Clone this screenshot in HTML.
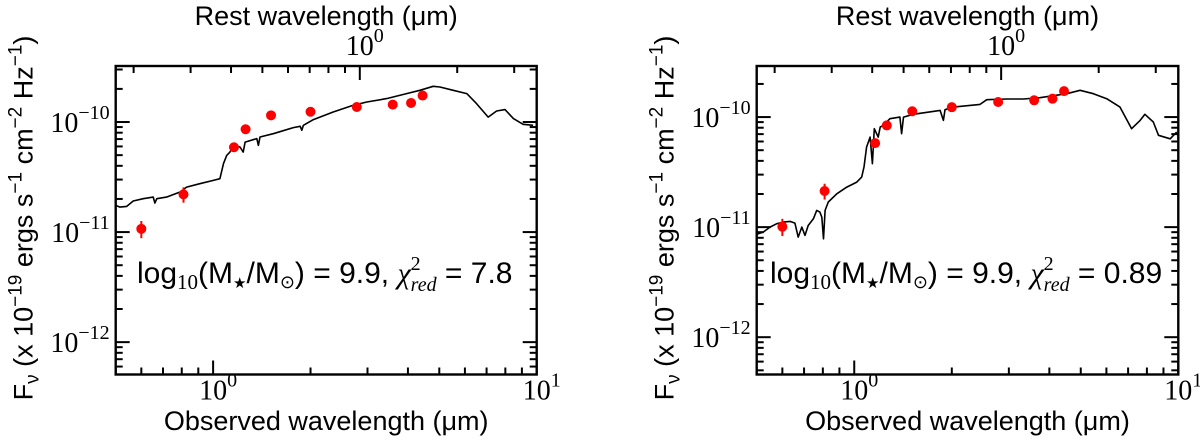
<!DOCTYPE html>
<html><head><meta charset="utf-8"><style>
html,body{margin:0;padding:0;background:#fff;}
svg{display:block;}
.tk{font-family:"Liberation Serif",serif;font-size:28px;fill:#000;}
.lb{font-family:"Liberation Sans",sans-serif;font-size:27px;fill:#000;}
.an{font-family:"Liberation Sans",sans-serif;font-size:30px;fill:#000;}
.tick{stroke:#000;stroke-width:2;}
</style></head><body>
<svg id="fig" width="1200" height="444" viewBox="0 0 1200 444" xmlns="http://www.w3.org/2000/svg"></svg>
<script>
// ---- data ----
const photLam = [0.60, 0.81, 1.16, 1.26, 1.51, 2.00, 2.78, 3.59, 4.09, 4.44];
const leftPhotF = [1.07e-11, 2.2e-11, 5.9e-11, 8.6e-11, 1.15e-10, 1.24e-10, 1.37e-10, 1.44e-10, 1.49e-10, 1.74e-10];
const leftPhotErr = [0.19e-11, 0.35e-11, 0.3e-11, 0.2e-11, 0.2e-11, 0.2e-11, 0.2e-11, 0.2e-11, 0.2e-11, 0.2e-11];
const rightPhotF = [1.01e-11, 2.13e-11, 5.8e-11, 8.4e-11, 1.13e-10, 1.23e-10, 1.37e-10, 1.42e-10, 1.47e-10, 1.72e-10];
const rightPhotErr = [0.18e-11, 0.35e-11, 0.3e-11, 0.2e-11, 0.2e-11, 0.2e-11, 0.2e-11, 0.2e-11, 0.2e-11, 0.2e-11];
const leftModelLogLam = [-0.301,-0.288,-0.267,-0.247,-0.216,-0.185,-0.180,-0.174,-0.144,-0.102,-0.082,-0.041,0.001,0.021,0.032,0.042,0.052,0.063,0.073,0.083,0.093,0.099,0.135,0.140,0.145,0.186,0.248,0.269,0.274,0.279,0.310,0.371,0.433,0.475,0.536,0.598,0.639,0.680,0.701,0.742,0.784,0.814,0.850,0.876,0.902,0.928,0.958,0.989];
const leftModelLogF = [-10.757,-10.773,-10.767,-10.718,-10.697,-10.682,-10.736,-10.697,-10.682,-10.636,-10.591,-10.560,-10.530,-10.515,-10.378,-10.303,-10.273,-10.227,-10.221,-10.227,-10.273,-10.182,-10.151,-10.212,-10.136,-10.106,-10.051,-10.039,-10.075,-10.030,-9.978,-9.909,-9.848,-9.818,-9.787,-9.742,-9.712,-9.675,-9.682,-9.712,-9.742,-9.833,-9.955,-9.900,-9.887,-9.969,-10.021,-10.030];
const rightModelLogLam = [-0.301,-0.296,-0.281,-0.260,-0.239,-0.219,-0.198,-0.183,-0.173,-0.162,-0.152,-0.142,-0.126,-0.116,-0.106,-0.100,-0.095,-0.090,-0.080,-0.054,-0.023,0.008,0.023,0.030,0.038,0.049,0.056,0.062,0.074,0.080,0.090,0.100,0.110,0.141,0.146,0.152,0.182,0.265,0.275,0.280,0.306,0.388,0.409,0.471,0.522,0.573,0.656,0.697,0.738,0.779,0.820,0.856,0.882,0.897,0.923,0.939,0.975,0.995];
const rightModelLogF = [-11.07,-11.060,-11.045,-11.000,-10.969,-10.954,-10.948,-10.963,-11.091,-11.000,-11.075,-10.985,-10.924,-10.848,-10.863,-10.909,-11.106,-10.848,-10.772,-10.697,-10.636,-10.591,-10.545,-10.454,-10.272,-10.182,-10.424,-10.106,-10.182,-10.091,-10.075,-10.045,-10.015,-10.000,-10.151,-10.000,-9.975,-9.939,-10.030,-9.933,-9.909,-9.885,-9.842,-9.836,-9.836,-9.824,-9.788,-9.757,-9.788,-9.833,-9.909,-10.106,-10.030,-9.975,-10.045,-10.166,-10.197,-10.136];
const yMajorTicks = [-10, -11, -12];
const xMajorTicks = [1, 10];
const restTicks = [0.2,0.3,0.4,0.5,0.6,0.7,0.8,0.9,1,2,3];
const redshift = 1.84;

const NS = "http://www.w3.org/2000/svg";
const svg = document.getElementById('fig');
function mk(tag, attrs, parent){ const e=document.createElementNS(NS,tag); for(const k in attrs) e.setAttribute(k,attrs[k]); (parent||svg).appendChild(e); return e; }

const panels = [
  {name:'left', x0:115.7, x1:536.7, y0:66, y1:374.5, lt:-9.491, lb:-12.294, F:leftPhotF, E:leftPhotErr, mL:leftModelLogLam, mF:leftModelLogF,
   ann:['7.8'], annX:137},
  {name:'right', x0:756.7, x1:1178.3, y0:66, y1:374.5, lt:-9.536, lb:-12.339, F:rightPhotF, E:rightPhotErr, mL:rightModelLogLam, mF:rightModelLogF,
   ann:['0.89'], annX:770}
];
const lmin = Math.log10(0.5), lmax = 1;

function supText(parent, x, y, base, sup, cls, anchor){
  const t = mk('text',{x:x,y:y,class:cls,'text-anchor':anchor||'middle'},parent);
  t.appendChild(document.createTextNode(base));
  const s = mk('tspan',{dy:-13,'font-size':'20px'},t); s.textContent = sup;
  return t;
}
function tick(parent,x1,y1,x2,y2){
  return mk('line',{x1:x1,y1:y1,x2:x2,y2:y2,stroke:'#000','stroke-width':2,class:'tick'},parent);
}

panels.forEach(p=>{
  const g = mk('g',{});
  
  
  const X = v => p.x0 + (Math.log10(v)-lmin)/(lmax-lmin)*(p.x1-p.x0);
  const XL = l => p.x0 + (l-lmin)/(lmax-lmin)*(p.x1-p.x0);
  const Y = lf => p.y0 + (p.lt-lf)/(p.lt-p.lb)*(p.y1-p.y0);

  // model
  const pts = p.mL.map((l,i)=>XL(l).toFixed(1)+','+Y(p.mF[i]).toFixed(1)).join(' ');
  const ml = mk('polyline',{points:pts,fill:'none',stroke:'#000','stroke-width':1.6,'stroke-linejoin':'round'},g);
  
  

  // photometry
  photLam.forEach((lam,i)=>{
    const x=X(lam), f=p.F[i], e=p.E[i];
    const eb = mk('line',{x1:x,x2:x,y1:Y(Math.log10(f+e)),y2:Y(Math.log10(f-e)),stroke:'#ff0000','stroke-width':2},g);
    
    
    const c = mk('circle',{cx:x,cy:Y(Math.log10(f)),r:5,fill:'#ff0000'},g);
    
    
  });

  // ticks
  const tg = mk('g',{},g);
  
  
  for(let k=-13;k<=-9;k++){ for(let m=1;m<=9;m++){
    const lf = k+Math.log10(m); if(lf>p.lt||lf<p.lb) continue;
    const y=Y(lf), len = m===1?14:7;
    tick(tg,p.x0,y,p.x0+len,y);
    tick(tg,p.x1,y,p.x1-len,y);
  }}
  for(let k=-1;k<=1;k++){ for(let m=1;m<=9;m++){
    const v=m*Math.pow(10,k); if(v<0.5||v>10) continue;
    const x=X(v), len = m===1?14:7;
    tick(tg,x,p.y1,x,p.y1-len);
  }}
  restTicks.forEach(r=>{
    const x=X(r*(1+redshift)); if(x<p.x0||x>p.x1) return;
    const len = r===1?14:7;
    tick(tg,x,p.y0,x,p.y0+len);
  });

  // frame
  const fr = mk('rect',{x:p.x0,y:p.y0,width:p.x1-p.x0,height:p.y1-p.y0,fill:'none',stroke:'#000','stroke-width':2.4},g);
  
  

  // tick labels
  yMajorTicks.forEach(k=>{
    const t = supText(g, p.x0-6, Y(k)+10, '10', '\u2212'+(-k), 'tk', 'end');
    
    
  });
  xMajorTicks.forEach((v,i)=>{
    const t = supText(g, X(v)+5, p.y1+25, '10', String(i), 'tk', 'middle');
    
    
  });
  const tt = supText(g, X(1+redshift)+5, 55, '10', '0', 'tk', 'middle');
  
  

  // axis titles
  const cx = (p.x0+p.x1)/2;
  const xt = mk('text',{x:cx,y:430,class:'lb','text-anchor':'middle'},g);
  xt.textContent = 'Observed wavelength (\u03BCm)';
  
  
  const rt = mk('text',{x:cx,y:25,class:'lb','text-anchor':'middle'},g);
  rt.textContent = 'Rest wavelength (\u03BCm)';
  
  

  const yt = mk('text',{x:0,y:0,class:'lb','text-anchor':'middle',transform:`translate(${p.x0-83},218) rotate(-90)`},g);
  
  
  yt.appendChild(document.createTextNode('F'));
  let s=mk('tspan',{dy:6,'font-size':'19px'},yt); s.textContent='\u03BD';
  s=mk('tspan',{dy:-6},yt); s.textContent=' (x 10';
  s=mk('tspan',{dy:-11,'font-size':'19px'},yt); s.textContent='\u221219';
  s=mk('tspan',{dy:11},yt); s.textContent=' ergs s';
  s=mk('tspan',{dy:-11,'font-size':'19px'},yt); s.textContent='\u22121';
  s=mk('tspan',{dy:11},yt); s.textContent=' cm';
  s=mk('tspan',{dy:-11,'font-size':'19px'},yt); s.textContent='\u22122';
  s=mk('tspan',{dy:11},yt); s.textContent=' Hz';
  s=mk('tspan',{dy:-11,'font-size':'19px'},yt); s.textContent='\u22121';
  s=mk('tspan',{dy:11},yt); s.textContent=')';

  // annotation
  const an = mk('text',{x:p.annX,y:283,class:'an'},g);
  
  
  an.appendChild(document.createTextNode('log'));
  s=mk('tspan',{dy:6,'font-size':'21px','font-family':'Liberation Serif'},an); s.textContent='10';
  s=mk('tspan',{dy:-6},an); s.textContent='(M';
  s=mk('tspan',{dy:5,'font-size':'15px'},an); s.textContent='\u2605';
  s=mk('tspan',{dy:-5},an); s.textContent='/M';
  s=mk('tspan',{dy:5,'font-size':'18px'},an); s.textContent='\u2299';
  s=mk('tspan',{dy:-5},an); s.textContent=') = 9.9, ';
  s=mk('tspan',{'font-family':'Liberation Serif','font-style':'italic'},an); s.textContent='\u03C7';
  s=mk('tspan',{dy:-13,'font-size':'20px','font-family':'Liberation Serif'},an); s.textContent='2';
  s=mk('tspan',{dx:-10,dy:21,'font-size':'20px','font-family':'Liberation Serif','font-style':'italic'},an); s.textContent='red';
  s=mk('tspan',{dy:-8},an); s.textContent=' = '+p.ann[0];
});
</script>
</body></html>
